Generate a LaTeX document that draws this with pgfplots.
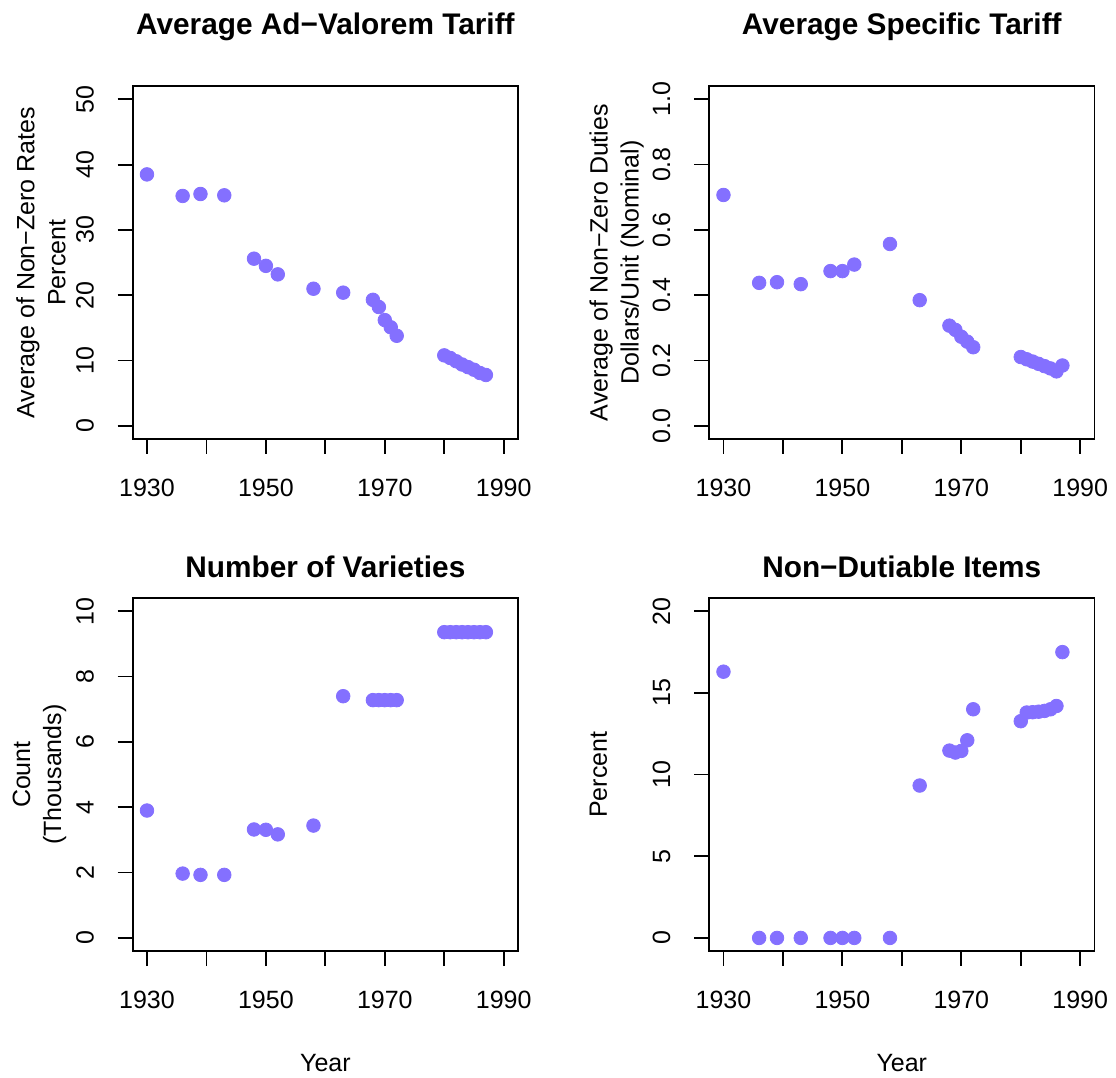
\documentclass[border=0pt]{standalone}
\usepackage{fontspec}
\setmainfont{Liberation Sans}
\usepackage{pgfplots}
\usepackage{pgfplotstable}
\pgfplotsset{compat=1.18}
\definecolor{pt}{HTML}{8470FF}
\newcommand{\lbl}{\fontsize{12.5}{15.5}\selectfont}
\newcommand{\ttl}{\fontsize{14.9}{17}\selectfont\bfseries}

\pgfplotstableread{
year adv spec var nond
1930 38.5 0.707 3.90 16.3
1936 35.2 0.438 1.97 0
1939 35.5 0.440 1.93 0
1943 35.3 0.434 1.93 0
1948 25.6 0.474 3.32 0
1950 24.5 0.474 3.31 0
1952 23.2 0.494 3.17 0
1958 21.0 0.557 3.44 0
1963 20.4 0.385 7.40 9.33
1968 19.3 0.307 7.28 11.47
1969 18.2 0.294 7.28 11.35
1970 16.2 0.273 7.28 11.45
1971 15.1 0.258 7.28 12.1
1972 13.8 0.241 7.28 14.0
1980 10.8 0.211 9.36 13.27
1981 10.4 0.204 9.36 13.8
1982 9.9 0.197 9.36 13.82
1983 9.4 0.190 9.36 13.85
1984 9.0 0.183 9.36 13.9
1985 8.6 0.176 9.36 14.0
1986 8.1 0.167 9.36 14.2
1987 7.8 0.185 9.36 17.5
}\data

\pgfplotsset{
  rstyle/.style={
    scale only axis, width=192.65pt, height=176.4pt, anchor=south west,
    xmin=1927.6, xmax=1992.4,
    xtick={1930,1940,1950,1960,1970,1980,1990},
    xticklabels={1930,,1950,,1970,,1990},
    tick align=outside, xtick pos=left, ytick pos=left,
    major tick length=7.5pt,
    axis line style={line width=0.9pt, black},
    every tick/.style={line width=0.9pt, black},
    tick label style={font=\lbl},
    xticklabel style={anchor=center},
    yticklabel style={rotate=90, anchor=center},
    xticklabel shift=16.8pt,
    yticklabel shift=16.3pt,
    clip=false,
  },
  rplot/.style={only marks, color=pt, mark=*, mark size=3.4pt, mark options={draw=none, fill=pt}},
}

\begin{document}
\begin{tikzpicture}[x=1pt,y=1pt]
% top left
\begin{axis}[rstyle, at={(66.35pt,319.5pt)},
  ymin=-2, ymax=52, ytick={0,10,20,30,40,50}, yticklabels={0,10,20,30,40,50}]
\addplot[rplot] table[x=year,y=adv] {\data};
\end{axis}
% top right
\begin{axis}[rstyle, at={(354.6pt,319.5pt)},
  ymin=-0.04, ymax=1.04, ytick={0,0.2,0.4,0.6,0.8,1.0}, yticklabels={0.0,0.2,0.4,0.6,0.8,1.0}]
\addplot[rplot] table[x=year,y=spec] {\data};
\end{axis}
% bottom left
\begin{axis}[rstyle, at={(66.35pt,63.5pt)},
  ymin=-0.4, ymax=10.4, ytick={0,2,4,6,8,10}, yticklabels={0,2,4,6,8,10}]
\addplot[rplot] table[x=year,y=var] {\data};
\end{axis}
% bottom right
\begin{axis}[rstyle, at={(354.6pt,63.5pt)},
  ymin=-0.8, ymax=20.8, ytick={0,5,10,15,20}, yticklabels={0,5,10,15,20}]
\addplot[rplot] table[x=year,y=nond] {\data};
\end{axis}

% titles
\node[font=\ttl, anchor=base] at (162.7,521.85) {Average Ad−Valorem Tariff};
\node[font=\ttl, anchor=base] at (450.9,521.85) {Average Specific Tariff};
\node[font=\ttl, anchor=base] at (162.7,250.35) {Number of Varieties};
\node[font=\ttl, anchor=base] at (450.9,250.35) {Non−Dutiable Items};

% y labels
\node[font=\lbl, rotate=90, align=center] at (20.5,407.7) {Average of Non−Zero Rates\\Percent};
\node[font=\lbl, rotate=90, align=center] at (308.35,407.7) {Average of Non−Zero Duties\\Dollars/Unit (Nominal)};
\node[font=\lbl, rotate=90, align=center] at (19.75,151.7) {Count\\(Thousands)};
\node[font=\lbl, rotate=90, align=center] at (299.15,151.7) {Percent};

% x labels
\node[font=\lbl, anchor=base] at (162.7,3.2) {Year};
\node[font=\lbl, anchor=base] at (450.9,3.2) {Year};

\pgfresetboundingbox
\useasboundingbox (0,0) rectangle (558,539);
\end{tikzpicture}
\end{document}
